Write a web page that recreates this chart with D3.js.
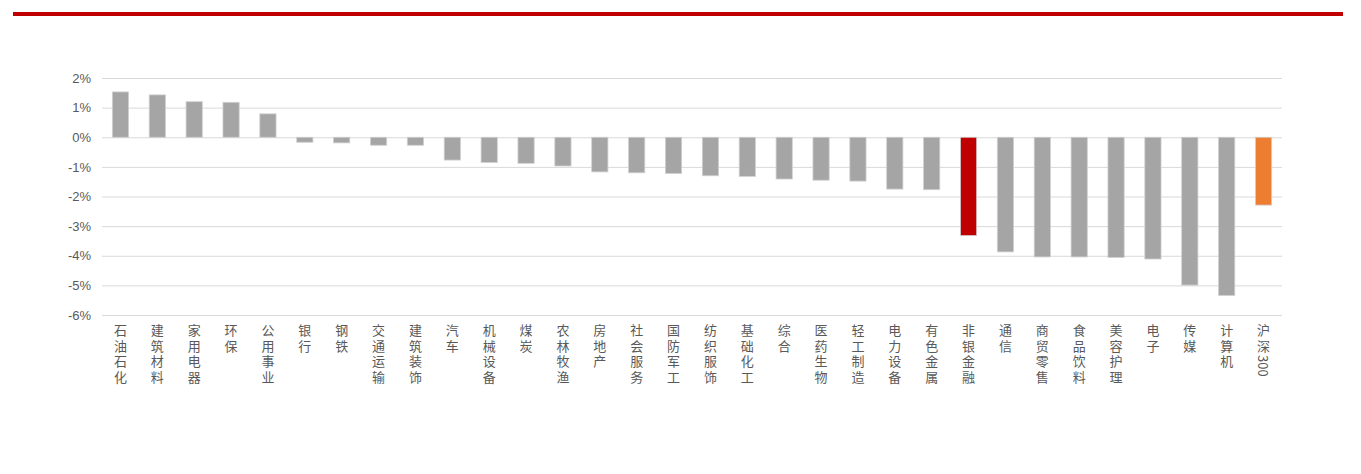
<!DOCTYPE html>
<html>
<head>
<meta charset="utf-8">
<script src="https://cdn.jsdelivr.net/npm/d3@7"></script>
<style>
  body { margin: 0; background: #fff; }
  svg { display: block; }
</style>
</head>
<body>
<div id="chart"></div>
<script>
// industry names, left to right
const categories = ["石油石化", "建筑材料", "家用电器", "环保", "公用事业", "银行", "钢铁", "交通运输",
  "建筑装饰", "汽车", "机械设备", "煤炭", "农林牧渔", "房地产", "社会服务", "国防军工", "纺织服饰",
  "基础化工", "综合", "医药生物", "轻工制造", "电力设备", "有色金属", "非银金融", "通信", "商贸零售",
  "食品饮料", "美容护理", "电子", "传媒", "计算机", "沪深300"];

// weekly change, %
const values = [1.53, 1.43, 1.20, 1.18, 0.79, -0.17, -0.19, -0.27, -0.27, -0.77, -0.85, -0.88,
  -0.97, -1.17, -1.20, -1.22, -1.30, -1.32, -1.41, -1.45, -1.48, -1.75, -1.77, -3.32, -3.87,
  -4.04, -4.04, -4.06, -4.11, -4.99, -5.34, -2.29];

const yTicks = [2, 1, 0, -1, -2, -3, -4, -5, -6];

const width = 1361, height = 474;
const margin = { top: 78, right: 79, bottom: 159, left: 102 };

const svg = d3.select("#chart").append("svg")
    .attr("width", width)
    .attr("height", height);

// red rule across the top
svg.append("rect")
    .attr("x", 13).attr("y", 12)
    .attr("width", 1330).attr("height", 4)
    .attr("fill", "#c00000");

const x = d3.scaleBand()
    .domain(categories)
    .range([margin.left, width - margin.right])
    .paddingInner(0.56)
    .paddingOuter(0.28);

const y = d3.scaleLinear()
    .domain([-6, 2])
    .range([height - margin.bottom, margin.top]);

// gridlines + y labels
const yAxis = svg.append("g")
    .attr("transform", `translate(${margin.left},0)`)
    .call(d3.axisLeft(y).tickValues(yTicks)
        .tickSize(-(width - margin.left - margin.right))
        .tickFormat(d => d + "%"));
yAxis.select(".domain").remove();
yAxis.selectAll(".tick line").attr("stroke", "#d9d9d9").attr("stroke-width", 1);
yAxis.selectAll(".tick text")
    .attr("x", -11)
    .attr("fill", "#595959")
    .style("font-family", "'Liberation Sans', Arial, sans-serif")
    .style("font-size", "13px");

// bars
const color = d => d === "沪深300" ? "#ed7d31" : d === "非银金融" ? "#c00000" : "#a5a5a5";
svg.append("g")
  .selectAll("rect")
  .data(categories)
  .enter().append("rect")
    .attr("x", d => x(d))
    .attr("width", x.bandwidth())
    .attr("y", (d, i) => Math.min(y(0), y(values[i])))
    .attr("height", (d, i) => Math.abs(y(values[i]) - y(0)))
    .attr("fill", color)
    .attr("stroke", "#d0d0d0")
    .attr("stroke-width", 0.8);

// vertical category labels; digit runs are kept tight
const labels = svg.append("g")
  .selectAll("text")
  .data(categories)
  .enter().append("text")
    .attr("x", d => x(d) + x.bandwidth() / 2)
    .attr("y", 324)
    .style("writing-mode", "vertical-rl")
    .style("text-orientation", "mixed")
    .style("font-family", "'Noto Sans CJK SC', sans-serif")
    .style("font-size", "13px")
    .attr("fill", "#595959");

labels.selectAll("tspan")
  .data(d => d.match(/[0-9]+|[^0-9]+/g))
  .enter().append("tspan")
    .style("letter-spacing", d => /[0-9]/.test(d) ? "0px" : "2.5px")
    .text(d => d);
</script>
</body>
</html>
